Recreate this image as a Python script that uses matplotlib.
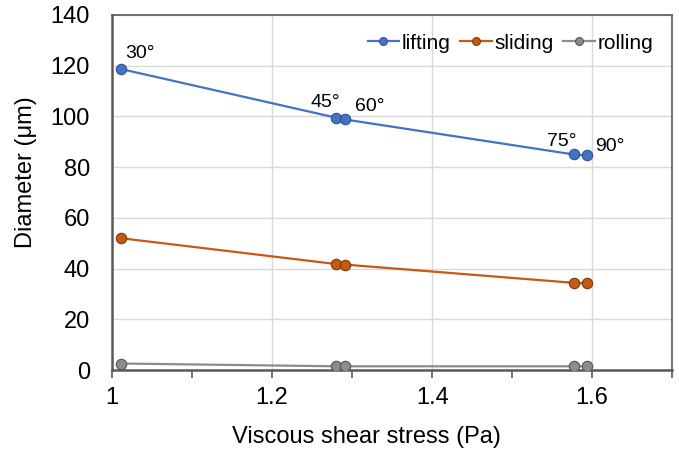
import numpy as np
import matplotlib
matplotlib.use("Agg")
import matplotlib.pyplot as plt
from matplotlib.ticker import MultipleLocator, FixedLocator

plt.rcParams["font.family"] = ["Liberation Sans", "DejaVu Sans"]

# data
stress = [1.011, 1.280, 1.291, 1.577, 1.593]
angles = ["30°", "45°", "60°", "75°", "90°"]
lifting = [118.7, 99.5, 98.8, 85.0, 84.6]
sliding = [52.0, 41.8, 41.6, 34.4, 34.2]
rolling = [2.6, 1.5, 1.5, 1.5, 1.5]

# annotation placement per angle label: (dx, dy) in points, horizontal align
label_offsets = [(3, 5, "left"), (3, 5, "right"), (7, 3, "left"),
                 (2, 3, "right"), (6, 0, "left")]

fig = plt.figure(figsize=(6.79, 4.53), dpi=100)
ax = fig.add_axes([0.165, 0.183, 0.825, 0.784])

series = [
    ("lifting", lifting, "#4472C4", "#2F528F"),
    ("sliding", sliding, "#C55A11", "#7A3A0E"),
    ("rolling", rolling, "#8C8C8C", "#555555"),
]
for name, vals, col, edge in series:
    ax.plot(stress, vals, "-", color=col, lw=1.6, marker="o", ms=7.5,
            mfc=col, mec=edge, mew=0.8, label=name, zorder=3)

for x, y, txt, (dx, dy, ha) in zip(stress, lifting, angles, label_offsets):
    ax.annotate(txt, (x, y), xytext=(dx, dy), textcoords="offset points",
                fontsize=14, ha=ha, va="bottom")

ax.set_xlim(1, 1.7)
ax.set_ylim(0, 140)
ax.xaxis.set_major_locator(FixedLocator([1.0, 1.2, 1.4, 1.6]))
ax.xaxis.set_minor_locator(MultipleLocator(0.1))
ax.set_xticklabels(["1", "1.2", "1.4", "1.6"])
ax.yaxis.set_major_locator(MultipleLocator(20))
ax.tick_params(axis="x", which="both", direction="out", length=6, width=1.2,
               color="#595959", labelsize=17, pad=6)
ax.tick_params(axis="y", length=0, labelsize=17, pad=16)
ax.grid(True, which="major", color="#D9D9D9", lw=1)
ax.set_axisbelow(True)

for side in ["left", "bottom"]:
    ax.spines[side].set_color("#595959")
    ax.spines[side].set_linewidth(1.8)
for side in ["top", "right"]:
    ax.spines[side].set_color("#595959")
    ax.spines[side].set_linewidth(1.2)

ax.set_xlabel("Viscous shear stress (Pa)", fontsize=17, va="center")
ax.xaxis.set_label_coords(0.455, -0.189)
ax.set_ylabel("Diameter (μm)", fontsize=17, va="center")
ax.yaxis.set_label_coords(-0.154, 0.558)

ax.legend(loc="upper right", ncol=3, frameon=False, fontsize=15,
          handlelength=1.5, handletextpad=0.15, columnspacing=0.45,
          borderaxespad=0.5, bbox_to_anchor=(1.0, 1.0), markerscale=0.75)

fig.savefig("out.png", dpi=100)
